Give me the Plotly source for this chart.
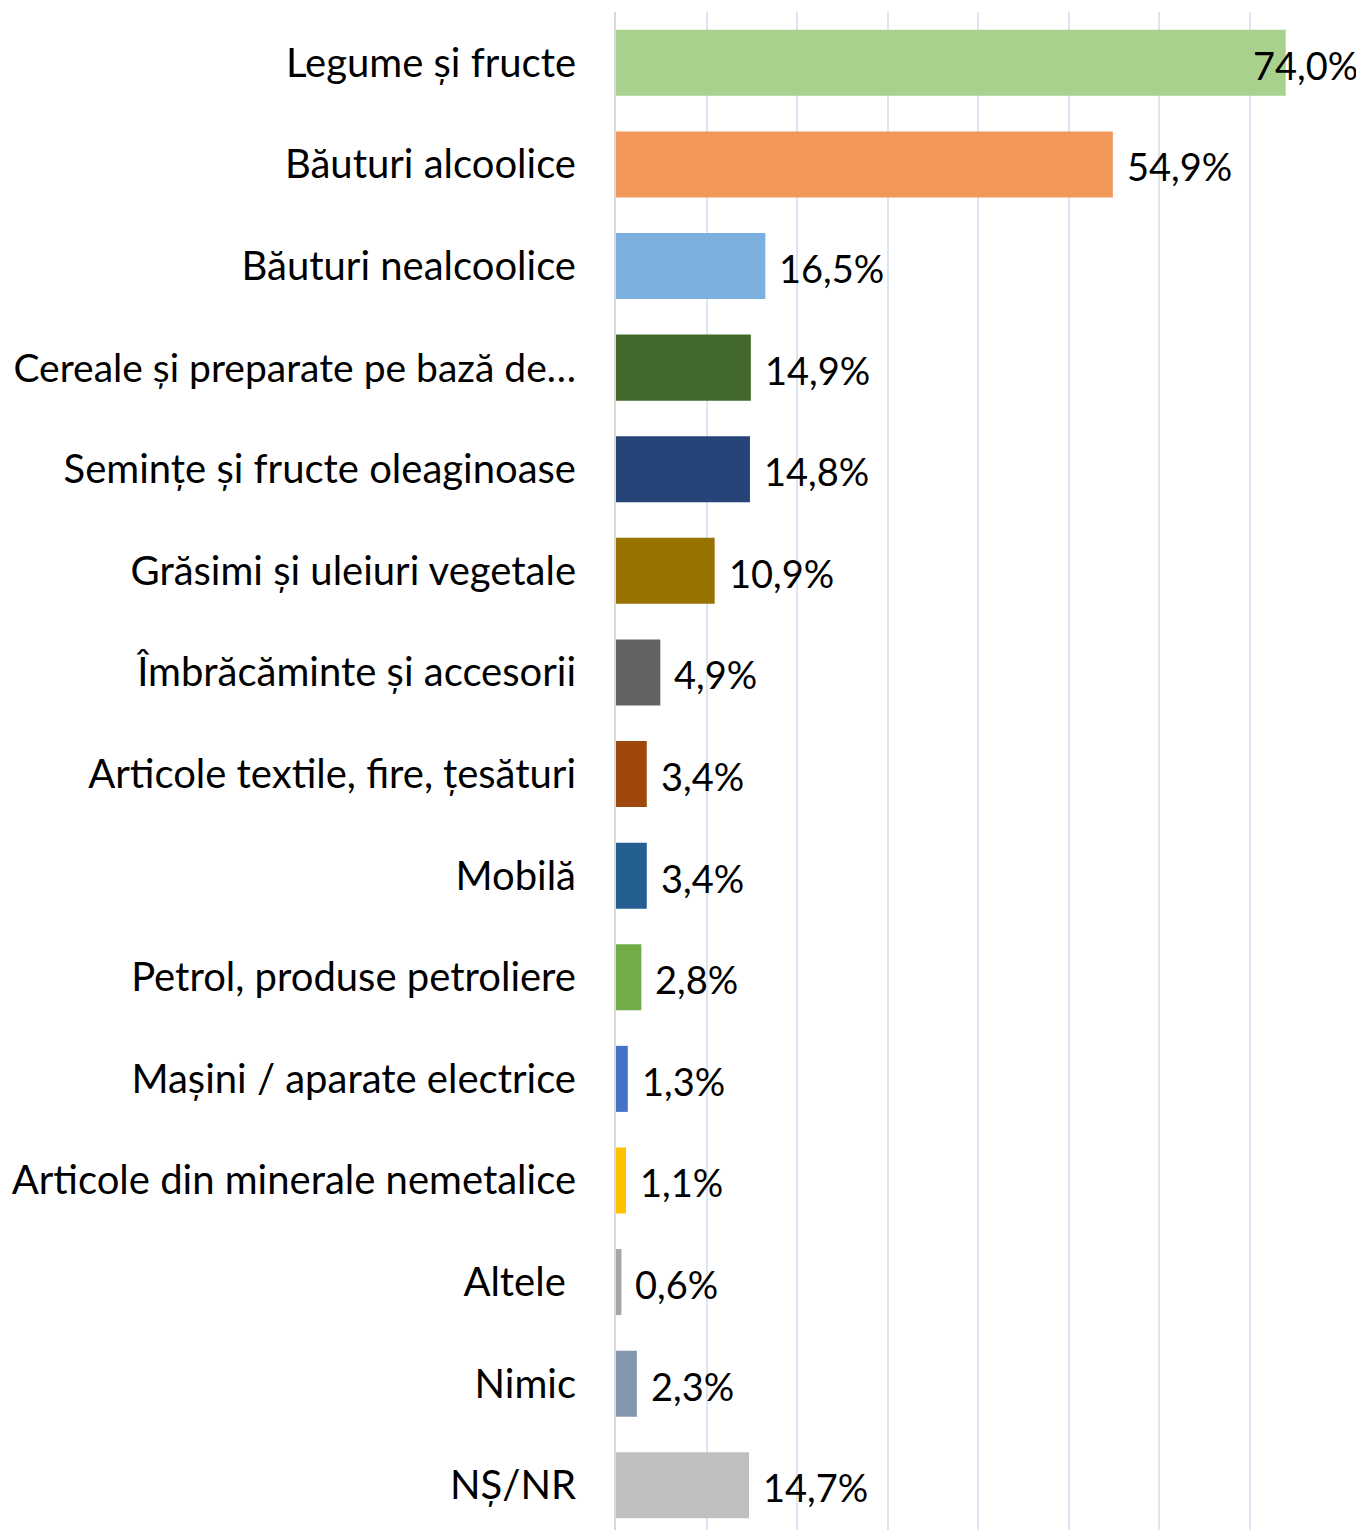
import plotly.graph_objects as go

categories = [
    "Legume și fructe",
    "Băuturi alcoolice",
    "Băuturi nealcoolice",
    "Cereale și preparate pe bază de…",
    "Semințe și fructe oleaginoase",
    "Grăsimi și uleiuri vegetale",
    "Îmbrăcăminte și accesorii",
    "Articole textile, fire, țesături",
    "Mobilă",
    "Petrol, produse petroliere",
    "Mașini / aparate electrice",
    "Articole din minerale nemetalice",
    "Altele\u00a0",
    "Nimic",
    "NȘ/NR",
]
values = [74.0, 54.9, 16.5, 14.9, 14.8, 10.9, 4.9, 3.4, 3.4, 2.8, 1.3, 1.1, 0.6, 2.3, 14.7]
labels = ["74,0%", "54,9%", "16,5%", "14,9%", "14,8%", "10,9%", "4,9%", "3,4%", "3,4%",
          "2,8%", "1,3%", "1,1%", "0,6%", "2,3%", "14,7%"]
colors = ["#A9D18E", "#F1975A", "#7BAFDE", "#43682B", "#264478", "#997300", "#636363",
          "#9E480E", "#255E91", "#70AD47", "#4472C4", "#FFC000", "#A5A5A5", "#8497B0", "#BFBFBF"]
x_ticks = [0, 10, 20, 30, 40, 50, 60, 70, 80]

FONT = "Lato"

# truncated (ellipsis) label is drawn slightly smaller so it stays inside the page
tick_text = [f'<span style="font-size:39px">{c}</span>' if c.endswith("…") else c for c in categories]

fig = go.Figure()
fig.add_trace(go.Bar(
    x=values, y=categories, orientation="h",
    marker=dict(color=colors, line=dict(width=0)),
    width=0.65,
    hoverinfo="skip",
))

annotations = []
for c, v, t in zip(categories, values, labels):
    if v > 70:
        annotations.append(dict(x=1, xref="paper", y=c, yref="y", text=t, showarrow=False,
                                xanchor="right", xshift=20, yshift=-2,
                                font=dict(size=38, color="#000000", family=FONT)))
    else:
        annotations.append(dict(x=v, xref="x", y=c, yref="y", text=t, showarrow=False,
                                xanchor="left", xshift=12, yshift=-2,
                                font=dict(size=38, color="#000000", family=FONT)))

n = len(categories)
fig.update_layout(
    width=1356, height=1522,
    margin=dict(l=608, r=24, t=4, b=0),
    paper_bgcolor="white", plot_bgcolor="white",
    showlegend=False,
    annotations=annotations,
    font=dict(family=FONT, color="#000000"),
    xaxis=dict(range=[0, 80], tickvals=x_ticks, showticklabels=False, showgrid=True,
               gridcolor="#DCE6F2", gridwidth=2, zeroline=False, showline=False,
               fixedrange=True, automargin=False),
    yaxis=dict(range=[n - 0.56, -0.5], showline=True, linecolor="#D9D9D9", linewidth=2,
               ticks="", ticklabelstandoff=30, tickfont=dict(size=40, family=FONT, color="#000000"),
               tickmode="array", tickvals=categories, ticktext=tick_text,
               showgrid=False, automargin=False),
    bargap=0.35,
)

fig.write_html("out.html")
